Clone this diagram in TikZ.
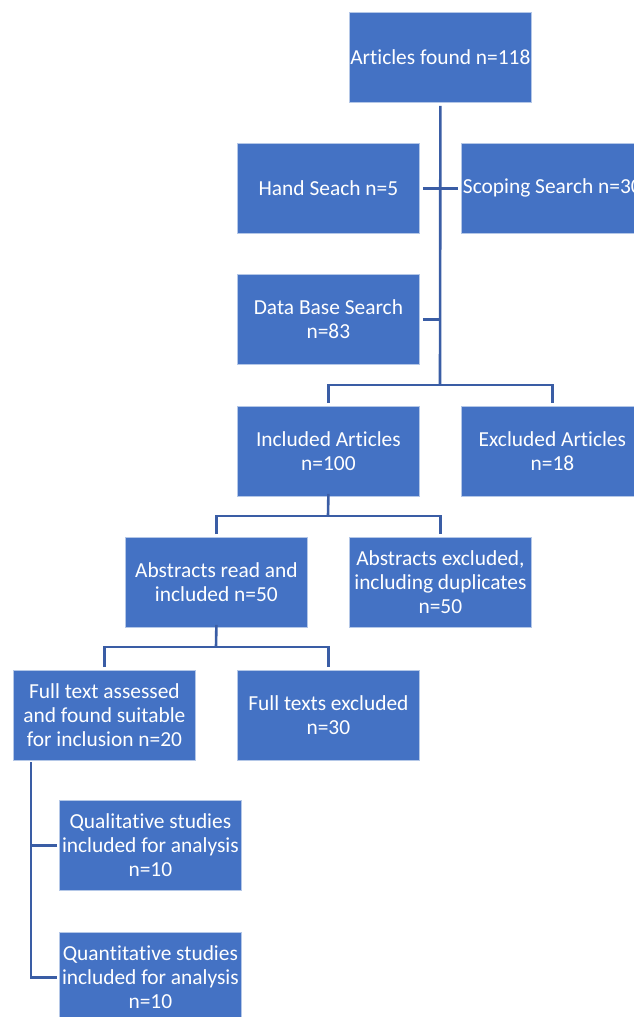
\documentclass[tikz,border=0pt]{standalone}
\usepackage{fontspec}
\setmainfont{Carlito}[Ligatures={NoCommon,NoContextual},RawFeature={-liga;-clig;-dlig;-calt}]
\definecolor{boxblue}{HTML}{4472C4}
\definecolor{linkblue}{HTML}{3A5DA5}
\begin{document}
\begin{tikzpicture}[x=1pt,y=-1pt,
  box/.style={draw=white!60!boxblue, line width=0.8pt, fill=boxblue, text=white,
    minimum width=182pt, minimum height=90pt, inner sep=0pt, align=center,
    font=\fontsize{21.4}{23.8}\selectfont, anchor=north west},
  link/.style={draw=linkblue, line width=2.6pt}]
\useasboundingbox (0,0) rectangle (634,1017);
\clip (0,0) rectangle (634,1017);

\node[box] (top)  at (349,12)  {Articles found n=118};
\node[box] (hand) at (237,143) {Hand Seach n=5};
\node[box] (scop) at (461,143) {Scoping Search n=30};
\node[box] (db)   at (237,274) {Data Base Search\\n=83};
\node[box] (inc)  at (237,406) {Included Articles\\n=100};
\node[box] (exc)  at (461,406) {Excluded Articles\\n=18};
\node[box] (absr) at (125,537) {Abstracts read and\\included n=50};
\node[box] (absx) at (349,537) {Abstracts excluded,\\including duplicates\\n=50};
\node[box] (fta)  at (13,670)  {Full text assessed\\and found suitable\\for inclusion n=20};
\node[box] (fte)  at (237,670) {Full texts excluded\\n=30};
\node[box] (qual) at (59,800)  {Quali\kern0ptta\kern0ptti\kern0ptve studies\\included for analysis\\n=10};
\node[box] (quan) at (59,932)  {Quan\kern0ptti\kern0ptta\kern0ptti\kern0ptve studies\\included for analysis\\n=10};

\coordinate (j1) at (440,385);
\coordinate (j2) at (328,516);
\coordinate (j3) at (216,647);
\coordinate (t0) at (31,762);

\draw[link] ([yshift=-3pt]top.south) -- (j1);
\draw[link, shorten >=3pt, shorten <=3pt] (hand.east) -- (scop.west);
\draw[link, shorten <=3pt] (db.east) -- (db.east -| j1);
\draw[link, shorten <=3pt, shorten >=3pt] (inc.north) |- (j1) -| (exc.north);
\draw[link] ([yshift=3pt]inc.south) -- (j2);
\draw[link, shorten <=3pt, shorten >=3pt] (absr.north) |- (j2) -| (absx.north);
\draw[link] ([yshift=3pt]absr.south) -- (j3);
\draw[link, shorten <=3pt, shorten >=3pt] (fta.north) |- (j3) -| (fte.north);
\draw[link, shorten >=2pt] (t0) |- (quan.west);
\draw[link, shorten <=2pt] (qual.west) -- (qual.west -| t0);
\end{tikzpicture}
\end{document}
